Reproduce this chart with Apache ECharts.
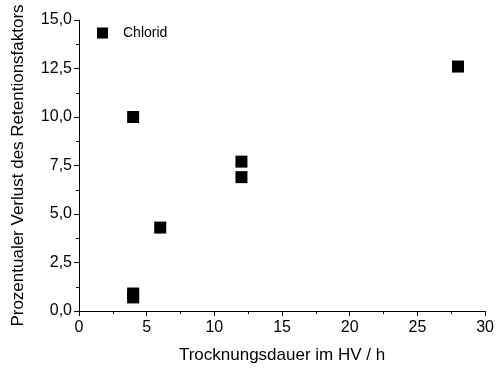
<!DOCTYPE html>
<html>
<head>
<meta charset="utf-8">
<script src="https://cdn.jsdelivr.net/npm/echarts@6/dist/echarts.min.js"></script>
<style>
html, body { margin: 0; padding: 0; background: #fff; }
#chart { width: 497px; height: 369px; }
</style>
</head>
<body>
<div id="chart"></div>
<script>
// Drying time in high vacuum (h) and percentage loss of retention factor
const dryingHours = [4, 4, 4, 6, 12, 12, 28];
const chloridLoss = [10.0, 0.9, 0.7, 4.3, 7.7, 6.9, 12.6];
const seriesName = 'Chlorid';
const xTitle = 'Trocknungsdauer im HV / h';
const yTitle = 'Prozentualer Verlust des Retentionsfaktors';

const points = dryingHours.map((h, i) => [h, chloridLoss[i]]);
const font = 'Liberation Sans, Arial, sans-serif';

const chart = echarts.init(document.getElementById('chart'), null, { renderer: 'canvas' });
chart.setOption({
  animation: false,
  backgroundColor: '#ffffff',
  grid: { left: 79, right: 8, top: 20, bottom: 55, containLabel: false },
  legend: {
    data: [{ name: seriesName, icon: 'rect' }],
    left: 92,
    top: 21,
    itemWidth: 11,
    itemHeight: 11,
    textStyle: { fontFamily: font, fontSize: 14, color: '#000', padding: [0, 0, 0, 10] }
  },
  xAxis: {
    type: 'value',
    min: 0, max: 30, interval: 5,
    name: xTitle,
    nameLocation: 'middle',
    nameGap: 36,
    nameTextStyle: { fontFamily: font, fontSize: 17, color: '#000' },
    axisLine: { show: true, onZero: false, lineStyle: { color: '#000', width: 1 } },
    axisTick: { show: true, inside: false, length: 5, lineStyle: { color: '#000' } },
    minorTick: { show: true, splitNumber: 2, length: 3, lineStyle: { color: '#000' } },
    axisLabel: { fontFamily: font, fontSize: 16, color: '#000', margin: 9 },
    splitLine: { show: false }
  },
  yAxis: {
    type: 'value',
    min: 0, max: 15, interval: 2.5,
    name: yTitle,
    nameLocation: 'middle',
    nameGap: 52,
    nameTextStyle: { fontFamily: font, fontSize: 17, color: '#000' },
    axisLine: { show: true, onZero: false, lineStyle: { color: '#000', width: 1 } },
    axisTick: { show: true, inside: false, length: 5, lineStyle: { color: '#000' } },
    minorTick: { show: true, splitNumber: 2, length: 3, lineStyle: { color: '#000' } },
    axisLabel: {
      fontFamily: font, fontSize: 16, color: '#000', margin: 7,
      formatter: v => v.toFixed(1).replace('.', ',')
    },
    splitLine: { show: false }
  },
  series: [{
    name: seriesName,
    type: 'scatter',
    symbol: 'rect',
    symbolSize: 12,
    itemStyle: { color: '#000', opacity: 1 },
    data: points
  }]
});
</script>
</body>
</html>
